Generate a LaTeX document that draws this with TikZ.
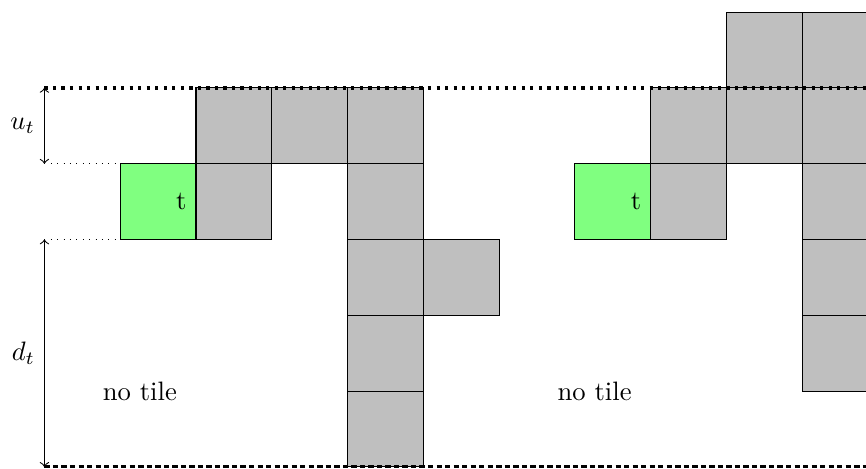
\documentclass[tikz,border=0pt]{standalone}
\usepackage{amsmath, amssymb}

\begin{document}
\begin{tikzpicture}

\clip (-0.586, -0.02) rectangle (10.84, 6.16);

% blocked tiles
\foreach \x/\y in {2/4, 3/4, 4/4, 2/3, 4/3, 4/2, 5/2, 4/1, 4/0,
                   8/4, 9/4, 10/4, 9/5, 10/5, 8/3, 10/3, 10/2, 10/1}
  \draw[fill=lightgray] (\x, \y) rectangle (\x + 1, \y + 1);

% current tile
\foreach \x in {1, 7} {
  \draw[fill=green!50] (\x, 3) rectangle (\x + 1, 4);
  \node[left] (t\x) at (\x + 1, 3.5) {t};
  \node (notile\x) at (\x + 0.26, 1) {no tile};
}

\draw[very thick, dotted] (0, 5) -- (11, 5);
\draw[very thick, dash pattern=on 2pt off 1.2pt] (0, 0) -- (11, 0);

\draw[dotted] (0, 4) -- (1, 4);
\draw[dotted] (0, 3) -- (1, 3);

\draw[<->] (0, 5) -- (0, 4) node[midway, left] (ut) {$u_t$};
\draw[<->] (0, 3) -- (0, 0) node[midway, left] (dt) {$d_t$};
\end{tikzpicture}
\end{document}
